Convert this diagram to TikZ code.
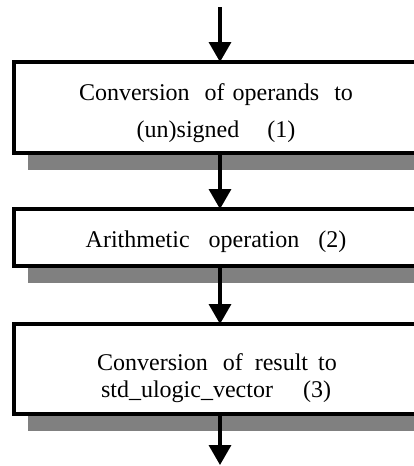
\documentclass[tikz,border=0pt]{standalone}
\usepackage{fontspec}
\setmainfont{Liberation Serif}
\usetikzlibrary{arrows.meta}
\definecolor{shadowgray}{HTML}{808080}
\newcommand{\wgap}[1]{\hspace{#1pt}}
\begin{document}
\begin{tikzpicture}[x=1pt,y=-1pt,
  stagebox/.style={draw=none, inner sep=0pt, outer sep=0pt, minimum width=440pt},
  frame/.style={line width=4pt, line join=miter},
  caption/.style={anchor=base, inner sep=0pt, font=\fontsize{24}{24}\selectfont},
  flow/.style={line width=3.5pt, -{Triangle[width=22pt,length=20pt]}}]
  \useasboundingbox (0,0) rectangle (413,466);

  % the three processing stages (their right sides run past the page edge)
  \node[stagebox, minimum height=91pt] (b1) at (234,107.5) {};
  \node[stagebox, minimum height=57pt] (b2) at (234,237.5) {};
  \node[stagebox, minimum height=90pt] (b3) at (234,369) {};

  % shadow, white face and frame of each stage, open at the right
  \foreach \b in {b1,b2,b3} {
    \fill[shadowgray] ([shift={(14pt,-17pt)}]\b.south west) rectangle ([shift={(14pt,-17pt)}]\b.north east);
    \fill[white] (\b.south west) rectangle (\b.north east);
    \draw[frame] (\b.north east) -- (\b.north west) -- (\b.south west) -- (\b.south east);
  }

  % stage texts
  \node[caption] (t1a) at (216,100) {Conversion\wgap{15}of\wgap{8}operands\wgap{15}to};
  \node[caption] (t1b) at (216,137) {(un)signed\wgap{28}(1)};
  \node[caption] (t2)  at (216,247) {Arithmetic\wgap{19}operation\wgap{19}(2)};
  \node[caption] (t3a) at (217,370) {Conversion\wgap{15}of\wgap{12}result\wgap{10}to};
  \node[caption] (t3b) at (216,397) {std\_ulogic\_vector\wgap{30}(3)};

  % data flow
  \coordinate (ax) at (220,0);
  \coordinate (src) at (220,7);
  \coordinate (dst) at (220,465);
  \draw[flow] (src) -- (b1.north -| ax);
  \draw[flow] (b1.south -| ax) -- (b2.north -| ax);
  \draw[flow] (b2.south -| ax) -- (b3.north -| ax);
  \draw[flow] (b3.south -| ax) -- (dst);
\end{tikzpicture}
\end{document}
